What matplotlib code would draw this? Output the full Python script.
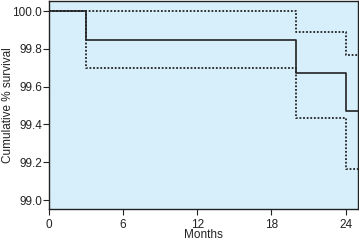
import matplotlib
matplotlib.use("Agg")
import matplotlib.pyplot as plt

months = [0, 3, 20, 24, 25]
survival = [100.0, 99.847, 99.67, 99.47, 99.47]
upper_ci = [100.0, 100.0, 99.89, 99.767, 99.767]
lower_ci = [100.0, 99.70, 99.435, 99.167, 99.167]
xticks = [0, 6, 12, 18, 24]
yticks = [99.0, 99.2, 99.4, 99.6, 99.8, 100.0]

plt.rcParams['font.family'] = ['Liberation Sans', 'DejaVu Sans']
fig = plt.figure(figsize=(3.59, 2.42), dpi=100)
ax = fig.add_axes([49/359, 33/242, 309/359, 208/242])
ax.set_facecolor('#d6effa')

ax.step(months, upper_ci, where='post', color='#222222', lw=1.3, ls=(0, (1, 1)))
ax.step(months, lower_ci, where='post', color='#222222', lw=1.3, ls=(0, (1, 1)))
ax.step(months, survival, where='post', color='#222222', lw=1.2)

ax.set_xlim(0, 25)
ax.set_ylim(98.953, 100.053)
ax.set_xticks(xticks)
ax.set_xticklabels([str(t) for t in xticks])
ax.set_yticks(yticks)
ax.set_yticklabels([f"{t:.1f}" for t in yticks])
ax.tick_params(labelsize=8.5, length=4.5, width=0.8, colors='#222222')
ax.tick_params(axis='y', pad=0.5)
ax.tick_params(axis='x', pad=2.5)
for s in ax.spines.values():
    s.set_linewidth(1.0)
    s.set_color('#222222')
ax.set_xlabel('Months', fontsize=8.5, labelpad=-1, color='#222222')
ax.set_ylabel('Cumulative % survival', fontsize=8.5, color='#222222')
ax.yaxis.set_label_coords(-0.113, 0.5)

fig.savefig('out.png', dpi=100)
